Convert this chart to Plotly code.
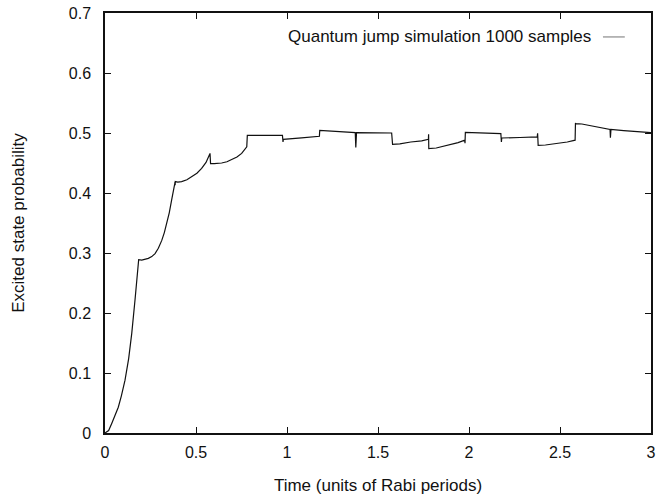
import plotly.graph_objects as go

# Time in units of Rabi periods, and excited state probability
time = [
    0.0, 0.02, 0.037, 0.055, 0.073, 0.09, 0.11, 0.13, 0.147, 0.165, 0.18, 0.183, 0.185,
    0.202, 0.22, 0.238, 0.257, 0.275, 0.293, 0.312, 0.326, 0.339, 0.353, 0.366, 0.375, 0.381, 0.385, 0.3855, 0.386,
    0.40, 0.421, 0.45, 0.476, 0.505, 0.531, 0.555, 0.577, 0.58,
    0.60, 0.641, 0.67, 0.696, 0.725, 0.751, 0.779, 0.782,
    0.80, 0.90, 0.975, 0.978, 0.98,
    1.08, 1.178, 1.18,
    1.28, 1.375, 1.378, 1.382,
    1.48, 1.575, 1.58,
    1.62, 1.68, 1.74, 1.777, 1.778, 1.779,
    1.82, 1.88, 1.94, 1.977, 1.978, 1.98,
    2.08, 2.175, 2.178, 2.18,
    2.28, 2.375, 2.377, 2.38,
    2.42, 2.48, 2.54, 2.583, 2.585, 2.587,
    2.62, 2.68, 2.74, 2.775, 2.777, 2.78,
    2.85, 2.92, 2.99, 3.0,
]
prob = [
    0.0, 0.004, 0.016, 0.028, 0.043, 0.062, 0.088, 0.124, 0.166, 0.222, 0.285, 0.283, 0.289,
    0.288, 0.289, 0.291, 0.294, 0.299, 0.308, 0.321, 0.334, 0.349, 0.367, 0.388, 0.404, 0.416, 0.418, 0.413, 0.419,
    0.418, 0.419, 0.422, 0.427, 0.433, 0.441, 0.451, 0.466, 0.449,
    0.449, 0.450, 0.452, 0.456, 0.460, 0.466, 0.477, 0.496,
    0.496, 0.4955, 0.496, 0.485, 0.4895,
    0.492, 0.4945, 0.5045,
    0.5025, 0.5007, 0.476, 0.5005,
    0.5002, 0.500, 0.481,
    0.482, 0.485, 0.487, 0.4895, 0.498, 0.474,
    0.475, 0.479, 0.484, 0.488, 0.483, 0.501,
    0.4995, 0.499, 0.485, 0.4917,
    0.4925, 0.4935, 0.4995, 0.4795,
    0.480, 0.482, 0.485, 0.488, 0.5167, 0.5157,
    0.515, 0.512, 0.508, 0.506, 0.492, 0.506,
    0.504, 0.5025, 0.5007, 0.5005,
]

x_ticks = [0, 0.5, 1, 1.5, 2, 2.5, 3]
x_tick_labels = ["0", "0.5", "1", "1.5", "2", "2.5", "3"]
y_ticks = [0, 0.1, 0.2, 0.3, 0.4, 0.5, 0.6, 0.7]
y_tick_labels = ["0", "0.1", "0.2", "0.3", "0.4", "0.5", "0.6", "0.7"]
legend_label = "Quantum jump simulation 1000 samples"

FONT = "Liberation Sans, Arial, Helvetica, sans-serif"
INK = "#111111"

fig = go.Figure()
fig.add_trace(go.Scatter(
    x=time, y=prob, mode="lines",
    line=dict(color=INK, width=1.2),
    name=legend_label, showlegend=False,
))

axis_common = dict(
    showgrid=False, zeroline=False,
    showline=True, linecolor=INK, linewidth=1.5, mirror="ticks",
    ticks="inside", ticklen=6, tickwidth=1.2, tickcolor=INK,
    tickfont=dict(family=FONT, size=16, color=INK),
    automargin=False,
)

fig.update_layout(
    width=663, height=495,
    margin=dict(l=105, r=12, t=13, b=62),
    paper_bgcolor="white", plot_bgcolor="white",
    font=dict(family=FONT, size=16, color=INK),
    xaxis=dict(
        range=[0, 3], tickvals=x_ticks, ticktext=x_tick_labels,
        title=dict(text="Time (units of Rabi periods)", standoff=26,
                   font=dict(family=FONT, size=17, color=INK)),
        ticklabelstandoff=4,
        **axis_common,
    ),
    yaxis=dict(
        range=[0, 0.7], tickvals=y_ticks, ticktext=y_tick_labels,
        title=dict(text="Excited state probability", standoff=40,
                   font=dict(family=FONT, size=17, color=INK)),
        ticklabelstandoff=9,
        **axis_common,
    ),
    annotations=[dict(
        text=legend_label, xref="paper", yref="paper",
        x=0.894, y=0.943, xanchor="right", yanchor="middle",
        showarrow=False, font=dict(family=FONT, size=17, color=INK),
    )],
    shapes=[dict(
        type="line", xref="paper", yref="paper",
        x0=0.912, x1=0.952, y0=0.943, y1=0.943,
        line=dict(color="#8a8a8a", width=1.2),
    )],
)

fig.write_html("out.html")
